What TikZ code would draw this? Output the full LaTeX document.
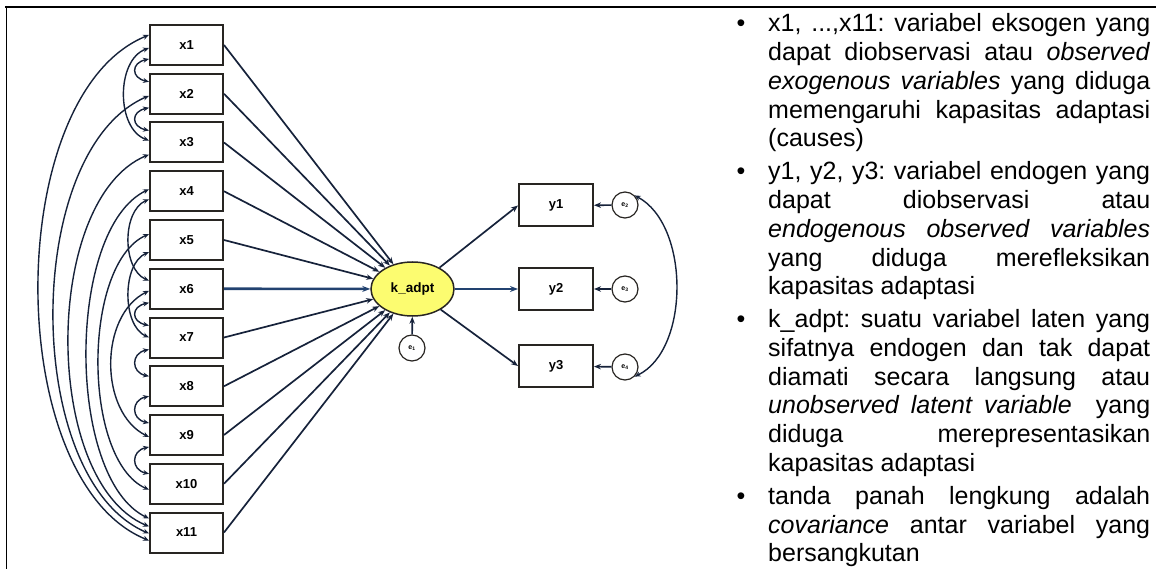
\documentclass[tikz,border=0pt]{standalone}
\usepackage{fontspec}
\setmainfont{Liberation Sans}
\usetikzlibrary{arrows.meta,calc,shapes.geometric}
\frenchspacing

\definecolor{pathcol}{RGB}{22,34,58}
\definecolor{boldpath}{RGB}{34,66,112}
\definecolor{boxline}{RGB}{40,37,34}
\definecolor{latentfill}{RGB}{252,252,112}

% one justified line of the legend
\newcommand\jline[1]{\makebox[382pt][s]{#1}}
% covariance arc between two exogenous boxes:
% {from}{offset}{to}{offset}{reach}{slope}
\newcommand\covpair[6]{\draw[cov] ($(x#1.west)+(0,#2)$) .. controls +(-#5,#6) and +(-#5,-#6) .. ($(x#3.west)+(0,#4)$);}

\begin{document}
\begin{tikzpicture}[x=1pt,y=-1pt,
  obs/.style={rectangle, draw=boxline, line width=2pt, fill=white,
    minimum width=73pt, minimum height=40pt, inner sep=0pt,
    font=\fontsize{13}{14}\selectfont\bfseries},
  latent/.style={ellipse, draw=boxline, line width=1.5pt, fill=latentfill,
    minimum width=83pt, minimum height=54pt, inner sep=0pt,
    font=\fontsize{13.5}{15}\selectfont\bfseries},
  err/.style={circle, draw=boxline, line width=1.2pt, fill=white,
    minimum size=26pt, inner sep=0pt, font=\fontsize{7}{7}\selectfont\bfseries},
  reg/.style={draw=pathcol, line width=1.7pt, -{Stealth[length=7pt,width=5.5pt]}},
  regbold/.style={draw=boldpath, line width=2.6pt, -{Stealth[length=8pt,width=6pt]}},
  cov/.style={draw=pathcol, line width=1.4pt,
    {Stealth[length=6pt,width=5pt]}-{Stealth[length=6pt,width=5pt]}},
  txt/.style={anchor=base west, inner sep=0pt, font=\fontsize{25}{29}\selectfont},
  bul/.style={anchor=base, inner sep=0pt, font=\fontsize{25}{29}\selectfont}]

\useasboundingbox (0,0) rectangle (1156,569);

% table rules
\draw[line width=2pt] (5,7) -- (1156,7);
\draw[line width=1.6pt] (6.5,6) -- (6.5,569);

% observed exogenous variables
\foreach \i in {1,...,11}
  \node[obs] (x\i) at (186.5,{45+48.75*(\i-1)}) {x\i};

% latent variable and its indicators
\node[latent] (k) at (412.5,289) {k\_adpt};
\node[obs, minimum width=74pt, minimum height=42pt] (y1) at (556,205.5) {y1};
\node[obs, minimum width=74pt, minimum height=42pt] (y2) at (556,289) {y2};
\node[obs, minimum width=74pt, minimum height=42pt] (y3) at (556,366) {y3};

% error terms
\node[err] (e1) at (412,348) {e\textsubscript{1}};
\node[err] (e2) at (625,205) {e\textsubscript{2}};
\node[err] (e3) at (625,289) {e\textsubscript{3}};
\node[err] (e4) at (625,367) {e\textsubscript{4}};

% causes -> latent
\foreach \i in {1,2,3,4,5,7,8,9,10,11}
  \draw[reg] (x\i.east) -- (k);
\draw[regbold] (x6.east) -- (k);

% latent -> indicators
\draw[reg] (k) -- (y1.west);
\draw[regbold] (k) -- (y2.west);
\draw[reg] (k) -- (y3.west);

% disturbances
\draw[reg] (e1) -- (k);
\draw[reg] (e2) -- (y1);
\draw[reg] (e3) -- (y2);
\draw[reg] (e4) -- (y3);
\draw[cov] (e2.north east) .. controls (690,225) and (690,350) .. (e4.south east);

% covariances among the causes
\covpair{1}{-10}{11}{8}{147}{60}
\covpair{2}{2}{11}{1}{127}{55}
\covpair{3}{12}{11}{-6}{107}{45}
\covpair{4}{-2}{11}{-14}{83}{40}
\covpair{5}{-6}{10}{6}{67}{30}
\covpair{6}{2}{9}{2}{50}{25}
\covpair{4}{8}{6}{-8}{27}{12}
\covpair{5}{12}{7}{0}{27}{12}
\covpair{1}{3}{3}{-2}{33}{12}
\covpair{1}{14}{2}{-12}{18}{4}
\covpair{2}{14}{3}{-12}{18}{4}
\covpair{6}{14}{7}{-12}{18}{4}
\covpair{7}{12}{8}{-10}{18}{4}
\covpair{8}{10}{9}{-12}{18}{4}
\covpair{9}{12}{10}{-10}{18}{4}

% legend
\node[bul] (b1) at (741,32) {\textbullet};
\node[txt] (t1) at (768,32) {\jline{x1, ...,x11: variabel eksogen yang}};
\node[txt] (t2) at (768,60.7) {\jline{dapat diobservasi atau \textit{observed}}};
\node[txt] (t3) at (768,89.4) {\jline{\textit{exogenous variables} yang diduga}};
\node[txt] (t4) at (768,118.1) {\jline{memengaruhi kapasitas adaptasi}};
\node[txt] (t5) at (768,146.8) {(causes)};

\node[bul] (b2) at (741,179.9) {\textbullet};
\node[txt] (t6) at (768,179.9) {\jline{y1, y2, y3: variabel endogen yang}};
\node[txt] (t7) at (768,208.6) {\jline{dapat diobservasi atau}};
\node[txt] (t8) at (768,237.3) {\jline{\textit{endogenous observed variables}}};
\node[txt] (t9) at (768,266.0) {\jline{yang diduga merefleksikan}};
\node[txt] (t10) at (768,294.7) {kapasitas adaptasi};

\node[bul] (b3) at (741,327.8) {\textbullet};
\node[txt] (t11) at (768,327.8) {\jline{k\_adpt: suatu variabel laten yang}};
\node[txt] (t12) at (768,356.5) {\jline{sifatnya endogen dan tak dapat}};
\node[txt] (t13) at (768,385.2) {\jline{diamati secara langsung atau}};
\node[txt] (t14) at (768,413.9) {\jline{\textit{unobserved latent variable}\ \ yang}};
\node[txt] (t15) at (768,442.6) {\jline{diduga merepresentasikan}};
\node[txt] (t16) at (768,471.3) {kapasitas adaptasi};

\node[bul] (b4) at (741,504.4) {\textbullet};
\node[txt] (t17) at (768,504.4) {\jline{tanda panah lengkung adalah}};
\node[txt] (t18) at (768,533.1) {\jline{\textit{covariance} antar variabel yang}};
\node[txt] (t19) at (768,561.8) {bersangkutan};
\end{tikzpicture}
\end{document}
